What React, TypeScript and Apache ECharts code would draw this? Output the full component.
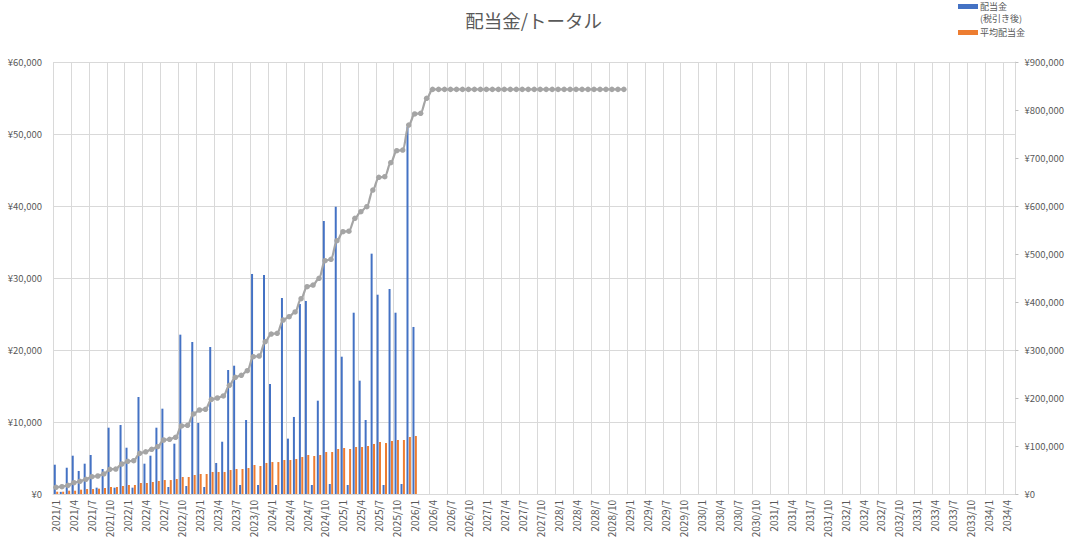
import React, { useEffect, useRef } from "react";
import * as echarts from "echarts";

// categories: monthly 2021/1 .. 2034/5
const categories: string[] = [];
for (let y = 2021; y <= 2034; y++) {
  for (let m = 1; m <= 12; m++) {
    if (y === 2034 && m > 5) break;
    categories.push(`${y}/${m}`);
  }
}

// 配当金 (税引き後) monthly
const dividend = [
  4070, 300, 3650, 5320, 3200, 4210, 5420, 880, 3470, 9210,
  880, 9580, 6430, 880, 13470, 4210, 5320, 9210, 11850, 970,
  6990, 22130, 1110, 21110, 9860, 970, 20420, 4310, 7260, 17220,
  17820, 1250, 10280, 30560, 1250, 30420, 15280, 1250, 27220, 7690,
  10700, 26390, 26810, 1250, 12960, 37920, 1390, 39900, 19070, 1250,
  25180, 15740, 10280, 33380, 27680, 1250, 28470, 25180, 1390, 51000,
  23200,
];

// 平均配当金
const average = [
  320, 320, 460, 460, 600, 690, 690, 740, 830, 970,
  970, 1110, 1250, 1250, 1530, 1530, 1670, 1810, 1940, 1940,
  2080, 2360, 2360, 2640, 2780, 2780, 3060, 3060, 3060, 3330,
  3470, 3470, 3610, 4030, 3890, 4310, 4440, 4440, 4720, 4720,
  4860, 5140, 5420, 5280, 5420, 5830, 5830, 6250, 6390, 6250,
  6530, 6530, 6670, 6950, 7220, 7080, 7360, 7500, 7500, 7920,
  8060,
];

// トータル (right axis)
const total = [
  14000, 15300, 18000, 23600, 26400, 30600, 36100, 37500, 41700, 51400,
  52000, 62500, 68100, 69400, 84700, 88000, 93100, 98600, 112500, 113900,
  118100, 141700, 143100, 166700, 175000, 176400, 197200, 200000, 204200, 226400,
  243100, 247200, 256900, 286100, 287500, 317300, 333300, 334700, 362500, 369400,
  379200, 406900, 431900, 435400, 449300, 486100, 489000, 527700, 546500, 547500,
  574300, 588200, 598600, 633300, 659700, 661000, 690300, 715300, 716500, 768700,
  791700, 793100, 824300, 843000, 843000, 843000, 843000, 843000, 843000, 843000,
  843000, 843000, 843000, 843000, 843000, 843000, 843000, 843000, 843000, 843000,
  843000, 843000, 843000, 843000, 843000, 843000, 843000, 843000, 843000, 843000,
  843000, 843000, 843000, 843000, 843000, 843000,
];

const FONT = "'Noto Sans CJK JP', 'Noto Sans', sans-serif";
const TXT = "#595959";
const GRID = "#d9d9d9";

const yen = (v: number) =>
  "¥" + String(v).replace(/\B(?=(\d{3})+(?!\d))/g, ",");

export default function App() {
  const ref = useRef<HTMLDivElement>(null);
  useEffect(() => {
    if (!ref.current) return;
    const chart = echarts.init(ref.current, undefined, { renderer: "svg" });
    chart.setOption({
      animation: false,
      backgroundColor: "#ffffff",
      textStyle: { fontFamily: FONT },
      title: {
        text: "配当金/トータル",
        left: "center",
        top: 6,
        textStyle: { fontSize: 18.5, fontWeight: "normal", color: TXT, fontFamily: FONT },
      },
      legend: [
        {
          data: ["配当金"],
          left: 958,
          top: 2,
          padding: 0,
          itemWidth: 20,
          itemHeight: 5,
          icon: "rect",
          textStyle: { fontSize: 9, color: TXT, fontFamily: FONT, padding: [0, 0, 0, -3] },
        },
        {
          data: ["平均配当金"],
          left: 958,
          top: 28,
          padding: 0,
          itemWidth: 20,
          itemHeight: 5,
          icon: "rect",
          textStyle: { fontSize: 9, color: TXT, fontFamily: FONT, padding: [0, 0, 0, -3] },
        },
      ],
      graphic: [
        {
          type: "text",
          left: 980,
          top: 14,
          style: { text: "(税引き後)", fontSize: 9, fill: TXT, fontFamily: FONT },
        },
      ],
      grid: { left: 53, right: 49, top: 62, bottom: 51, containLabel: false },
      xAxis: {
        type: "category",
        data: categories,
        boundaryGap: true,
        axisLine: { show: true, lineStyle: { color: GRID, width: 1 } },
        axisTick: { show: false },
        axisLabel: {
          interval: 2,
          rotate: 90,
          color: TXT,
          fontSize: 10,
          margin: 6,
          fontFamily: FONT,
        },
        splitLine: { show: true, interval: 2, lineStyle: { color: GRID, width: 1 } },
      },
      yAxis: [
        {
          type: "value",
          min: 0,
          max: 60000,
          interval: 10000,
          axisLine: { show: false },
          axisTick: { show: false },
          axisLabel: { color: TXT, fontSize: 9.5, margin: 11, fontFamily: FONT, formatter: yen },
          splitLine: { show: true, lineStyle: { color: GRID, width: 1 } },
        },
        {
          type: "value",
          min: 0,
          max: 900000,
          interval: 100000,
          axisLine: { show: true, lineStyle: { color: GRID, width: 1 } },
          axisTick: { show: true, length: 3, lineStyle: { color: "#bfbfbf" } },
          axisLabel: { color: TXT, fontSize: 9.5, margin: 9, fontFamily: FONT, formatter: yen },
          splitLine: { show: false },
        },
      ],
      series: [
        {
          name: "配当金",
          type: "bar",
          data: dividend,
          barWidth: 2,
          barGap: "20%",
          itemStyle: { color: "#4472C4" },
          yAxisIndex: 0,
        },
        {
          name: "平均配当金",
          type: "bar",
          data: average,
          barWidth: 2,
          barGap: "20%",
          itemStyle: { color: "#ED7D31" },
          yAxisIndex: 0,
        },
        {
          name: "トータル",
          type: "line",
          data: total,
          yAxisIndex: 1,
          smooth: 0.35,
          smoothMonotone: "x",
          symbol: "circle",
          symbolSize: 5.5,
          showAllSymbol: true,
          lineStyle: { color: "#A5A5A5", width: 2.25 },
          itemStyle: { color: "#A5A5A5" },
          z: 5,
        },
      ],
    });
    return () => chart.dispose();
  }, []);
  return (
    <div
      ref={ref}
      style={{ position: "absolute", left: 0, top: 0, width: 1067, height: 545, background: "#fff" }}
    />
  );
}
